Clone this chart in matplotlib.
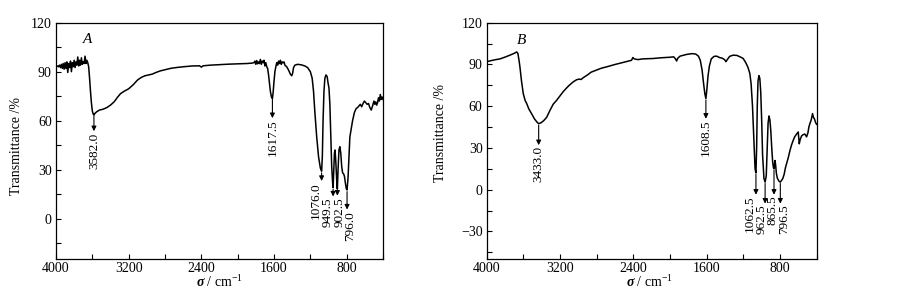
import numpy as np
import matplotlib
matplotlib.use('Agg')
import matplotlib.pyplot as plt
from matplotlib.ticker import MultipleLocator

plt.rcParams['font.family'] = ['Liberation Serif', 'DejaVu Serif']
plt.rcParams['mathtext.fontset'] = 'custom'
plt.rcParams['mathtext.rm'] = 'Liberation Serif'
plt.rcParams['mathtext.it'] = 'Liberation Serif:italic'
plt.rcParams['mathtext.bf'] = 'Liberation Serif:bold'
plt.rcParams['mathtext.bfit'] = 'Liberation Serif:bold:italic'

# Spectrum A (wavenumber / cm-1, transmittance / %)
wn_a = [4000, 3990, 3980, 3970, 3960, 3950, 3940, 3930, 3920, 3910, 3900, 3890, 3880, 3870,
        3860, 3850, 3840, 3830, 3820, 3810, 3800, 3790, 3780, 3770, 3760, 3750, 3740, 3730,
        3720, 3710, 3700, 3690, 3680, 3670, 3660, 3650, 3640, 3630, 3620, 3610, 3600, 3590,
        3582, 3570, 3550, 3520, 3480, 3440, 3400, 3360, 3320, 3290, 3250, 3200, 3150, 3100,
        3060, 3020, 2980, 2940, 2900, 2850, 2800, 2740, 2680, 2600, 2500, 2420, 2400, 2380,
        2300, 2200, 2100, 2000, 1900, 1850, 1820, 1810, 1800, 1790, 1780, 1770, 1760, 1750,
        1740, 1730, 1720, 1710, 1700, 1690, 1680, 1670, 1660, 1650, 1640, 1628, 1617.5, 1610,
        1600, 1590, 1580, 1570, 1560, 1550, 1540, 1530, 1520, 1510, 1500, 1490, 1480, 1460,
        1440, 1420, 1405, 1395, 1385, 1370, 1340, 1300, 1260, 1230, 1200, 1180, 1165, 1150,
        1130, 1110, 1090, 1076, 1068, 1060, 1050, 1040, 1028, 1015, 1005, 995, 985, 975,
        965, 955, 949.5, 943, 935, 928, 920, 912, 906, 902.5, 895, 885, 875, 865,
        855, 845, 835, 825, 815, 805, 796, 785, 775, 765, 750, 735, 715, 695,
        680, 665, 650, 635, 620, 605, 590, 575, 560, 545, 530, 515, 500, 490,
        480, 470, 460, 450, 440, 430, 420, 410, 400]
t_a = [93, 93.2, 93.5, 93, 94, 92.5, 94.5, 92, 95, 91.5, 95.5, 92, 96, 89.5,
       95, 92.5, 96.5, 90, 95.5, 93, 97, 92.5, 96, 94, 99, 93.5, 97, 94,
       98.5, 94.5, 96, 95, 99.5, 95, 97, 95.5, 93, 86, 78, 71, 66, 64,
       63.5, 64.5, 65.5, 66.5, 67, 68, 69.5, 71.5, 74.5, 76.5, 78, 79.5, 82, 85,
       86.5, 87.5, 88, 88.5, 89.5, 90.5, 91.2, 92, 92.5, 93, 93.5, 93.6, 92.8, 93.6,
       94, 94.3, 94.6, 94.8, 95, 95.2, 95.5, 96.5, 94.5, 96.8, 94.8, 96, 95, 97.5,
       94.5, 96.5, 95.5, 97, 93.5, 95.5, 93, 92, 88, 83, 78, 74.5, 73.5, 77,
       84, 90, 93, 95.5, 94, 96.5, 95, 97, 94.5, 96, 95.5, 96, 94, 93,
       91, 88.5, 87.5, 89, 92.5, 94, 94.5, 94.2, 93.5, 92.5, 90, 86, 78, 65,
       50, 38, 31, 29, 38, 60, 78, 86, 88, 87, 83, 80, 70, 50,
       32, 22, 19, 28, 40, 42, 35, 25, 19, 18, 30, 42, 44, 40,
       32, 28, 27.5, 26, 22, 18.5, 17.5, 25, 38, 50, 55, 60, 65, 67.5,
       68, 69, 70, 68.5, 70.5, 72, 71, 70, 70.5, 68, 66.5, 69, 72, 70,
       71.5, 69.5, 71, 74, 72, 76, 73, 74.5, 73]

# Spectrum B
wn_b = [4000, 3950, 3900, 3855, 3800, 3746, 3700, 3673, 3660, 3645, 3637, 3620, 3601, 3580,
        3564, 3540, 3509, 3480, 3450, 3433, 3410, 3380, 3346, 3310, 3274, 3240, 3200, 3165,
        3130, 3100, 3056, 3020, 2990, 2970, 2947, 2900, 2860, 2800, 2750, 2691, 2600, 2520,
        2450, 2420, 2405, 2390, 2350, 2300, 2183, 2100, 2000, 1960, 1940, 1928, 1915, 1890,
        1820, 1760, 1720, 1690, 1670, 1650, 1635, 1620, 1608.5, 1598, 1585, 1570, 1550, 1520,
        1492, 1460, 1430, 1405, 1390, 1375, 1350, 1311, 1270, 1230, 1202, 1175, 1150, 1129,
        1115, 1100, 1085, 1072, 1062.5, 1055, 1048, 1040, 1030, 1020, 1010, 1000, 990, 975,
        962.5, 950, 940, 930, 920, 910, 900, 890, 880, 872, 865.5, 860, 855, 848,
        840, 830, 815, 800, 796.5, 785, 770, 755, 740, 728, 710, 692, 675, 656,
        640, 619, 601, 595, 590, 580, 565, 550, 529, 520, 510, 495, 485, 474,
        460, 445, 435, 425, 420, 410, 400]
t_b = [92, 92.8, 93.5, 94, 95.3, 96.7, 98, 99, 98, 92, 88, 78, 69, 64,
       62, 58, 54.5, 51, 48.5, 47.5, 48, 49.5, 52, 57, 61.5, 64, 67.5, 70.5,
       73, 75, 77.5, 79, 79.5, 79.2, 80.5, 82.5, 84.5, 86, 87.3, 88.3, 90, 91.3,
       92.5, 93, 95, 94, 93.5, 94, 94.3, 94.8, 95.2, 95.5, 94, 92.5, 94.5, 96,
       97.2, 97.8, 97.5, 96, 93, 86, 77, 69, 65.5, 72, 82, 89, 94, 95.8,
       96, 95, 94.5, 93.5, 92, 93.5, 95.8, 96.7, 96.5, 95.3, 94.3, 91.5, 88, 83.5,
       76, 60, 35, 15, 12, 30, 60, 78, 82, 80, 70, 50, 25, 8,
       5.5, 10, 30, 48, 53, 50, 42, 30, 20, 16, 15, 18, 21, 18,
       12, 8.5, 6.5, 5.5, 5.5, 6.5, 8, 11, 16, 18.7, 23, 28, 32, 35.5,
       38, 40, 41.5, 37, 33, 36, 38.6, 39.5, 40, 39, 38, 41, 45, 47.5,
       50, 54.7, 52, 51, 50, 48, 47]

# Marked bands
peaks_a = [3582.0, 1617.5, 1076.0, 949.5, 902.5, 796.0]
peaks_b = [3433.0, 1608.5, 1062.5, 962.5, 865.5, 796.5]

# arrow tail / head (transmittance), label x-shift (cm-1)
tail_a = [63, 73, 28, 18, 17, 16.5]
head_a = [53.5, 61.5, 23, 13.5, 14, 5.5]
shift_a = [-5, 0, 59, 60, -22, -36]
tail_b = [46.5, 64.5, 11, 4.5, 14, 4.5]
head_b = [32, 51, -3.6, -10, -3.6, -10]
shift_b = [0, 0, 66, 41, 12, -44]


def draw(ax, wn, t, peaks, tails, heads, shifts, ylim, letter, letter_pos):
    ax.plot(wn, t, color='black', lw=1.1)
    for p, ta, hd, sh in zip(peaks, tails, heads, shifts):
        ax.annotate('', xy=(p, hd), xytext=(p, ta),
                    arrowprops=dict(arrowstyle='-|>', color='black', lw=0.8,
                                    mutation_scale=7, shrinkA=0, shrinkB=0))
        ax.text(p + sh, hd - 0.8, '%.1f' % p, rotation=90, ha='center', va='top',
                fontsize=9.5)
    ax.text(letter_pos[0], letter_pos[1], letter, fontstyle='italic', fontsize=11,
            ha='center', va='center')
    ax.set_xlim(4000, 400)
    ax.set_ylim(*ylim)
    ax.xaxis.set_major_locator(MultipleLocator(800))
    ax.xaxis.set_minor_locator(MultipleLocator(400))
    ax.yaxis.set_major_locator(MultipleLocator(30))
    ax.yaxis.set_minor_locator(MultipleLocator(15))
    ax.tick_params(which='both', direction='in', length=3.5, width=0.8, top=False, right=False,
                   labelsize=10)
    ax.tick_params(axis='x', pad=2)
    ax.tick_params(axis='y', pad=3)
    for s in ax.spines.values():
        s.set_linewidth(0.9)
    ax.set_ylabel('Transmittance /%', fontsize=10)
    ax.set_xlabel(r'$\boldsymbol{\sigma}$ / cm$^{-1}$', fontsize=10)


fig = plt.figure(figsize=(9.07, 3.01), dpi=100)
ax_a = fig.add_axes([0.0617, 0.1385, 0.3606, 0.786])
ax_b = fig.add_axes([0.5366, 0.1385, 0.3638, 0.786])

draw(ax_a, wn_a, t_a, peaks_a, tail_a, head_a, shift_a, (-25, 120), 'A', (3650, 109.5))
draw(ax_b, wn_b, t_b, peaks_b, tail_b, head_b, shift_b, (-50, 120), 'B', (3620, 107.5))

ax_a.yaxis.set_label_coords(-0.10, 0.48)
ax_b.yaxis.set_label_coords(-0.119, 0.534)
ax_a.xaxis.set_label_coords(0.50, -0.062)
ax_b.xaxis.set_label_coords(0.495, -0.062)

fig.savefig('out.png', dpi=100)
